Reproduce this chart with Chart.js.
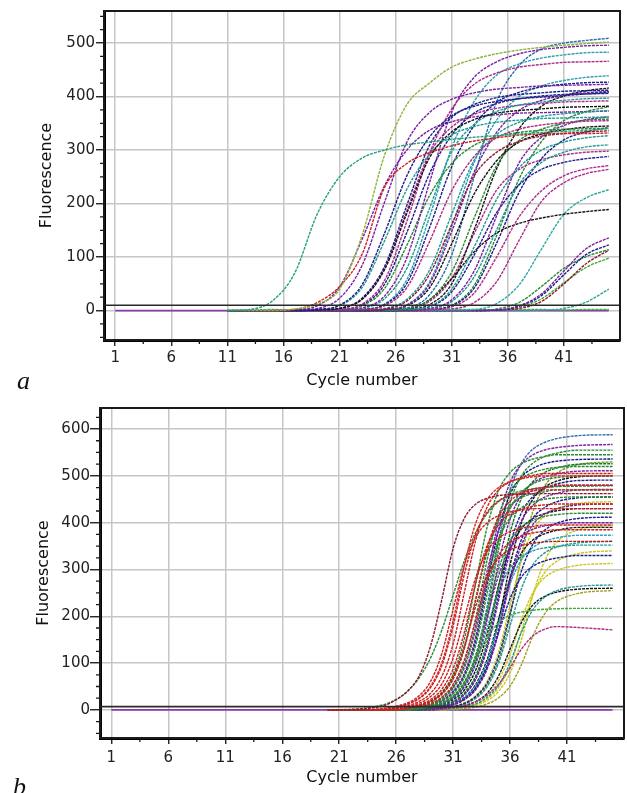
<!DOCTYPE html>
<html>
<head>
<meta charset="utf-8">
<script src="https://cdn.jsdelivr.net/npm/chart.js@4.4.1/dist/chart.umd.min.js"></script>
<style>
  html, body { margin: 0; padding: 0; background: #fff; }
  body { width: 627px; height: 793px; position: relative; overflow: hidden; }
  canvas { position: absolute; left: 0; }
  #chart-a { top: 0; }
  #chart-b { top: 395px; }
  .tag { position: absolute; font: italic 26px "Liberation Serif", serif; line-height: 26px; color: #111; }
</style>
</head>
<body>
<canvas id="chart-a" width="627" height="392"></canvas>
<canvas id="chart-b" width="627" height="398"></canvas>
<div class="tag" style="left:17px;top:368px">a</div>
<div class="tag" style="left:13px;top:774px">b</div>
<script>
// ---- data ----
const X_TICKS = [1, 6, 11, 16, 21, 26, 31, 36, 41];
const Y_TICKS_A = [0, 100, 200, 300, 400, 500];
const Y_TICKS_B = [0, 100, 200, 300, 400, 500, 600];
const THRESHOLD_A = 10;
const THRESHOLD_B = 7;
const BASELINE = [0, 0];
const BASELINE_CYCLES = [1, 45];

// panel a: sampled cycles, one row per well
const CYCLES_A = [11, 13, 15, 17, 19, 21, 23, 25, 27, 29, 31, 33, 35, 37, 39, 41, 43, 45];
const CURVES_A = [
  [0,2,18,70,180,250,285,300,310,315,320,324,327,330,333,335,337,340],
  [0,0,0,3,12,40,140,290,385,425,455,470,480,487,492,496,499,502],
  [0,0,0,2,15,45,105,230,275,295,308,317,323,328,330,331,331,332],
  [0,0,0,0,2,10,48,144,252,324,364,382,391,396,399,402,405,408],
  [0,0,0,1,4,23,84,202,315,370,395,407,414,417,420,421,422,423],
  [0,0,0,0,1,4,21,76,182,285,334,357,369,374,377,380,381,382],
  [0,0,0,0,2,9,43,130,227,292,328,344,352,356,359,360,361,362],
  [0,0,0,0,0,2,12,56,167,293,377,423,444,455,460,464,465,466],
  [0,0,0,0,1,4,23,82,197,308,361,385,398,404,407,410,411,412],
  [0,0,0,0,0,1,5,27,99,238,371,436,465,480,488,492,495,496],
  [0,0,0,0,0,2,9,41,122,214,275,309,325,333,337,339,340,341],
  [0,0,0,0,0,1,4,22,79,190,297,348,372,384,390,393,396,397],
  [0,0,0,0,0,0,2,9,43,128,224,288,323,339,347,351,354,355],
  [0,0,0,0,0,0,2,11,51,154,269,346,389,408,418,423,426,427],
  [0,0,0,0,0,0,1,3,18,67,161,252,296,316,326,331,334,336],
  [0,0,0,0,0,0,1,4,21,75,180,281,329,352,363,368,371,374],
  [0,0,0,0,0,0,0,2,10,49,148,259,333,374,393,402,407,410],
  [0,0,0,0,0,0,0,2,9,42,125,218,280,315,330,338,343,345],
  [0,0,0,0,0,0,0,1,4,20,72,173,271,318,339,350,356,358],
  [0,0,0,0,1,4,21,78,187,293,343,367,378,384,387,390,391,392],
  [0,0,0,0,0,0,0,2,5,29,104,250,390,458,489,500,505,509],
  [0,0,0,0,0,0,0,0,2,8,40,119,208,267,300,315,323,327],
  [0,0,0,0,0,2,10,49,146,255,328,369,387,396,401,404,405,406],
  [0,0,0,0,0,0,0,0,2,11,50,151,265,340,382,401,411,416],
  [0,0,0,0,0,0,0,0,1,4,20,74,177,276,324,346,357,362],
  [0,0,0,0,0,0,2,12,58,174,304,391,440,461,472,478,482,483],
  [0,0,0,0,0,0,0,0,1,7,35,104,183,235,264,277,284,288],
  [0,0,0,0,0,0,0,0,0,1,7,33,100,175,224,252,265,271],
  [0,0,0,0,0,0,0,0,1,3,17,63,151,236,277,296,306,310],
  [0,0,0,0,0,0,0,1,3,20,60,110,145,163,173,180,185,189],
  [0,0,0,0,0,0,0,0,0,0,1,2,13,48,115,180,211,226],
  [0,0,0,0,0,0,0,0,0,1,3,15,54,131,204,239,256,264],
  [0,0,0,0,0,0,0,0,0,0,0,0,1,9,31,74,116,136],
  [0,0,0,0,0,0,0,0,0,0,0,0,1,8,28,67,105,123],
  [0,0,0,0,0,0,0,0,0,0,0,0,3,15,45,79,101,114],
  [0,0,0,0,0,0,0,0,0,0,0,0,1,4,17,50,88,113],
  [0,0,0,0,0,0,0,0,0,0,0,0,1,6,22,52,81,98],
  [0,0,0,0,0,0,0,0,0,0,0,0,0,0,1,4,16,40],
  [1,1,2,1,2,2,1,2,2,1,2,2,1,2,2,1,2,2],
  [0,0,0,0,0,0,0,2,11,53,158,277,356,400,420,430,436,439],
  [0,0,0,0,0,0,0,0,0,2,9,42,126,221,284,319,334,342],
  [0,0,0,0,0,0,0,1,3,17,60,144,225,264,282,291,296,298],
  [0,0,0,0,0,0,0,0,0,2,10,47,140,246,316,355,372,381],
  [0,0,0,2,9,44,133,233,300,337,353,362,366,369,370,371,372,373],
];

// panel b
const CYCLES_B = [20, 23, 25, 26, 27, 28, 29, 30, 31, 32, 33, 34, 35, 36, 37, 38, 39, 40, 42, 45];
const CURVES_B = [
  [0,2,10,22,40,72,135,235,345,410,440,452,458,460,461,462,462,462,462,462],
  [0,0,2,6,12,24,47,94,179,291,376,423,447,458,464,468,470,470,470,470],
  [0,0,0,3,7,14,28,55,111,198,284,340,367,381,388,392,395,395,395,395],
  [0,0,0,4,9,18,35,71,141,253,364,434,470,487,496,501,505,505,505,505],
  [0,0,0,2,5,11,22,44,88,167,273,352,396,418,429,435,438,440,440,440],
  [0,0,0,0,3,7,13,27,54,108,193,277,331,358,372,378,382,385,385,385],
  [0,0,3,8,15,30,60,120,215,310,370,400,415,423,427,430,430,430,430,430],
  [0,0,0,0,4,9,17,34,67,134,240,346,413,446,463,472,476,480,480,480],
  [0,0,0,2,4,9,18,36,72,137,223,288,324,342,351,356,359,360,360,360],
  [0,0,3,6,13,25,50,100,190,310,400,450,475,488,494,498,500,500,500,500],
  [0,0,0,0,4,10,19,38,76,153,273,392,469,507,526,536,541,545,545,545],
  [0,0,0,0,3,6,13,26,52,104,198,322,416,468,494,507,514,518,520,520],
  [0,0,0,0,2,5,11,23,46,91,173,282,364,410,432,444,450,453,455,455],
  [0,0,0,0,0,4,9,18,35,70,140,250,360,430,465,483,492,496,500,500],
  [0,0,0,0,0,3,8,15,29,59,118,210,302,361,391,405,413,417,420,420],
  [0,0,0,0,0,3,7,14,28,56,111,211,344,444,500,527,541,548,555,555],
  [0,0,0,0,4,8,16,33,66,132,235,338,404,437,454,462,466,470,470,470],
  [0,0,0,0,2,4,8,15,30,61,109,156,187,202,209,213,215,216,217,217],
  [0,3,12,22,40,68,110,170,245,320,380,420,445,460,468,472,475,477,478,479],
  [0,0,0,0,0,0,4,9,18,37,74,147,263,378,452,488,507,516,525,526],
  [0,0,0,0,0,5,10,20,40,79,158,283,407,486,525,545,555,560,565,567],
  [0,0,0,0,0,3,6,13,26,51,102,194,316,408,459,485,497,504,510,511],
  [0,0,0,0,0,0,4,8,16,33,66,132,235,338,404,437,454,462,470,471],
  [0,0,0,0,0,3,7,14,28,56,112,200,288,344,372,386,393,397,400,400],
  [0,0,0,0,0,0,2,5,11,22,44,88,167,273,352,396,418,429,438,440],
  [0,0,0,0,2,6,12,24,48,96,182,298,384,432,456,468,474,478,480,480],
  [0,0,0,0,0,0,0,2,5,10,18,32,55,90,130,158,172,178,176,171],
  [0,0,0,0,0,0,4,9,17,34,69,137,245,353,421,456,473,482,490,491],
  [0,0,0,0,0,0,2,5,11,23,46,91,173,282,364,410,432,444,453,455],
  [0,0,0,0,0,0,3,6,12,23,46,92,165,238,284,307,318,324,330,330],
  [0,0,0,0,0,0,0,3,7,14,29,58,115,206,297,354,383,398,409,412],
  [0,0,0,0,0,4,10,19,37,75,150,268,385,460,498,516,526,531,535,536],
  [0,0,0,0,0,3,7,15,29,59,117,223,363,469,527,557,571,579,586,588],
  [0,0,0,0,0,0,3,7,13,26,52,104,187,269,321,347,360,367,373,373],
  [0,0,0,0,0,0,0,3,6,13,25,50,101,180,259,310,335,347,357,360],
  [0,0,0,0,0,0,0,1,3,7,13,27,53,101,166,214,240,254,264,267],
  [0,0,0,0,0,3,6,12,25,49,99,176,253,303,327,340,346,349,352,352],
  [0,0,0,0,0,2,5,11,22,43,86,163,267,344,387,409,419,425,430,430],
  [0,0,0,0,0,0,3,6,13,25,50,100,190,310,400,450,475,488,498,500],
  [0,0,0,0,0,0,0,2,5,9,18,36,73,130,187,224,242,251,258,260],
  [0,0,0,0,0,0,3,7,14,27,55,109,195,281,335,363,376,383,390,390],
  [0,0,0,0,0,0,0,2,4,8,16,31,63,119,194,250,282,297,309,313],
  [0,0,0,0,0,0,0,0,3,6,12,24,48,95,170,245,292,316,334,340],
  [0,0,0,0,0,0,0,0,1,3,6,13,26,51,97,158,204,230,249,255],
  [0,0,0,0,0,0,0,4,8,16,31,62,125,223,320,383,414,429,441,445],
  [0,0,0,0,0,0,0,0,2,5,10,20,40,79,150,245,316,356,385,395],
  [0,0,0,0,0,0,0,3,6,13,27,53,106,201,329,424,477,504,524,530],
];

// ---- styling ----
const TEAL = '#1f9a96', NAVY = '#1c1c8a', PURPLE = '#7a1fa2', MAGENTA = '#ad2a8a',
      BLACK = '#151515', GREEN = '#2a8a34', RED = '#cc2020', DKRED = '#8c1a30',
      STEEL = '#2a6ea8', YGREEN = '#8cb43a', BGREEN = '#3aac3a', CYAN = '#22a6cc',
      YELLOW = '#c8c81e', OLIVE = '#a0a01e', OLGREEN = '#7c9c22';

const COLOURS_A = [
  '#20a080', YGREEN, RED, NAVY, PURPLE, BLACK, TEAL, MAGENTA, NAVY, PURPLE,
  GREEN, TEAL, MAGENTA, NAVY, DKRED, TEAL, PURPLE, BLACK, GREEN, MAGENTA,
  STEEL, TEAL, NAVY, BLACK, PURPLE, '#26a2aa', NAVY, MAGENTA, TEAL, BLACK,
  '#30a8a0', MAGENTA, PURPLE, NAVY, GREEN, DKRED, BGREEN, '#30a890', BGREEN, '#2aa0b0',
  NAVY, MAGENTA, GREEN, PURPLE,
];
const COLOURS_B = [
  DKRED, RED, RED, RED, RED, RED, RED, RED, '#b81818', '#e02828',
  GREEN, GREEN, GREEN, GREEN, GREEN, GREEN, GREEN, BGREEN, GREEN, '#0c7a2a',
  PURPLE, PURPLE, PURPLE, PURPLE, PURPLE, '#8a20b0', MAGENTA, NAVY, NAVY, NAVY,
  NAVY, '#14148a', STEEL, CYAN, TEAL, TEAL, TEAL, BLACK, BLACK, BLACK,
  BLACK, YELLOW, YELLOW, OLIVE, YELLOW, YELLOW, OLGREEN,
];

const frame = {
  id: 'frame',
  afterDatasetsDraw(chart, args, opts) {
    const { ctx, chartArea: a, scales } = chart;
    ctx.save();
    ctx.strokeStyle = '#1a1a1a';
    ctx.lineWidth = 2;
    ctx.strokeRect(a.left, a.top, a.right - a.left, a.bottom - a.top);
    // minor ticks
    ctx.lineWidth = 1.3;
    ctx.beginPath();
    for (let v = -50; v <= opts.yMax; v += 25) {
      if (v % 100 === 0) continue;
      const y = scales.y.getPixelForValue(v);
      ctx.moveTo(a.left - 4, y); ctx.lineTo(a.left, y);
    }
    for (let c = 3.5; c < 46; c += 5) {
      const x = scales.x.getPixelForValue(c);
      ctx.moveTo(x, a.bottom); ctx.lineTo(x, a.bottom + 4);
    }
    ctx.stroke();
    ctx.restore();
  }
};

function buildChart(id, cycles, curves, colours, threshold, yTicks, yMin, yMax, lay) {
  const datasets = [{
    data: [{ x: 0, y: threshold }, { x: 46, y: threshold }],
    borderColor: '#2a2a2a', borderWidth: 1.6, pointRadius: 0,
  }];
  curves.forEach((vals, i) => datasets.push({
    data: vals.map((v, j) => ({ x: cycles[j], y: v })),
    borderColor: colours[i % colours.length],
    borderWidth: 1.4,
    borderDash: [3, 1],
    pointRadius: 0,
    cubicInterpolationMode: 'monotone',
  }));
  datasets.push({
    data: BASELINE.map((v, j) => ({ x: BASELINE_CYCLES[j], y: v })),
    borderColor: '#8a3aaa', borderWidth: 1.6, pointRadius: 0,
  });

  return new Chart(document.getElementById(id), {
    type: 'line',
    data: { datasets },
    plugins: [frame],
    options: {
      responsive: false,
      animation: false,
      events: [],
      layout: { padding: lay.padding },
      plugins: {
        legend: { display: false },
        tooltip: { enabled: false },
        frame: { yMax },
      },
      scales: {
        x: {
          type: 'linear', min: 0, max: 46,
          afterBuildTicks: s => { s.ticks = X_TICKS.map(v => ({ value: v })); },
          afterFit: s => { s.height = lay.xHeight; },
          ticks: { color: '#222', padding: lay.xPad, autoSkip: false, maxRotation: 0,
                   font: { family: 'DejaVu Sans', size: 15 } },
          grid: { color: '#c6c6c6', lineWidth: 1.5, tickColor: '#111', tickLength: 6, tickWidth: 1.3 },
          border: { color: '#000', width: 3 },
          title: { display: true, text: 'Cycle number', color: '#111', padding: 0,
                   font: { family: 'DejaVu Sans', size: 16 } },
        },
        y: {
          min: yMin, max: yMax,
          afterBuildTicks: s => { s.ticks = yTicks.map(v => ({ value: v })); },
          afterFit: s => { s.width = lay.yWidth; },
          ticks: { color: '#222', padding: lay.yPad, autoSkip: false,
                   font: { family: 'DejaVu Sans', size: 15 } },
          grid: { color: '#c6c6c6', lineWidth: 1.5, tickColor: '#111', tickLength: lay.yTick, tickWidth: 1.3 },
          border: { color: '#000', width: 3 },
          title: { display: true, text: 'Fluorescence', color: '#111', padding: 0,
                   font: { family: 'DejaVu Sans', size: 16 } },
        },
      },
    },
  });
}

buildChart('chart-a', CYCLES_A, CURVES_A, COLOURS_A, THRESHOLD_A, Y_TICKS_A, -55, 560, {
  padding: { left: 37, top: 11, right: 7, bottom: 2 },
  yWidth: 67, xHeight: 50, xPad: 3, yPad: 1, yTick: 8,
});
buildChart('chart-b', CYCLES_B, CURVES_B, COLOURS_B, THRESHOLD_B, Y_TICKS_B, -60, 645, {
  padding: { left: 34, top: 13, right: 3, bottom: 6 },
  yWidth: 66, xHeight: 49, xPad: 5, yPad: 0, yTick: 10,
});
</script>
</body>
</html>
